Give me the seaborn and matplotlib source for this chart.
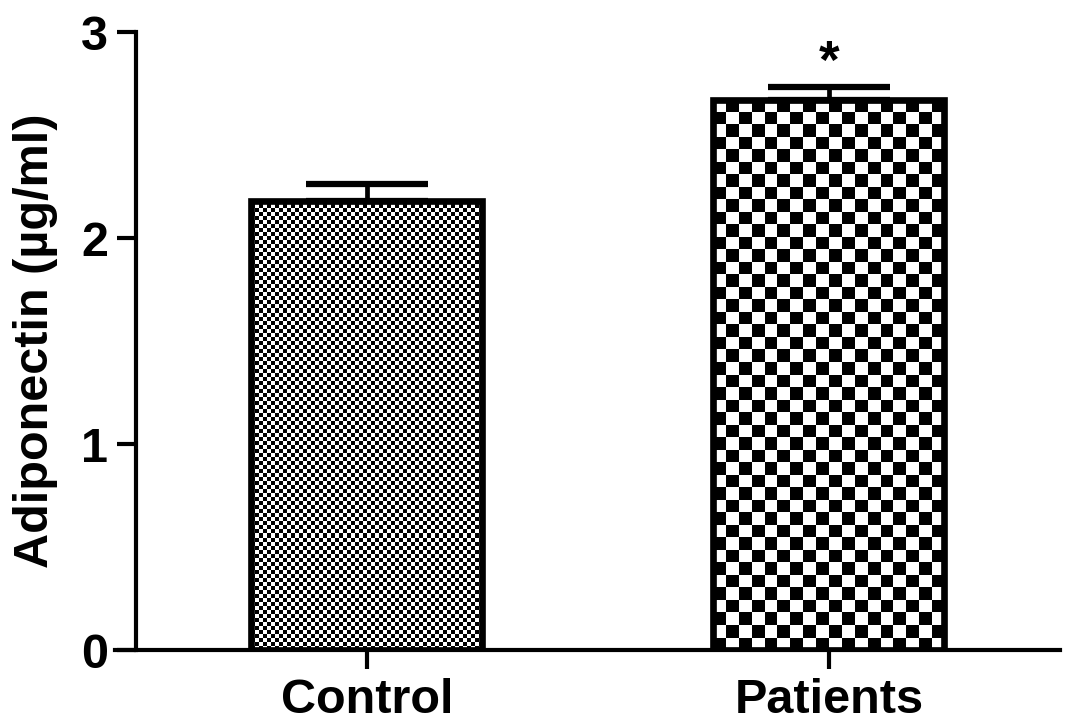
import numpy as np
import pandas as pd
import matplotlib
matplotlib.use('Agg')
import matplotlib.pyplot as plt
import seaborn as sns

# Data
groups = ['Control', 'Patients']
means = [2.18, 2.67]
sems = [0.08, 0.065]
square_px = [4, 12.5]  # checkerboard cell size for each bar, in pixels

sns.set_style('ticks')
plt.rcParams['font.family'] = ['Liberation Sans', 'DejaVu Sans']
plt.rcParams['font.weight'] = 'bold'
plt.rcParams['text.color'] = 'black'
plt.rcParams['axes.edgecolor'] = 'black'
plt.rcParams['axes.labelcolor'] = 'black'
plt.rcParams['xtick.color'] = 'black'
plt.rcParams['ytick.color'] = 'black'

fig = plt.figure(figsize=(10.87, 7.28), dpi=100)
ax = fig.add_axes([115 / 1087, 1 - 650 / 728, 945 / 1087, 618 / 728])

df = pd.DataFrame({'group': groups, 'value': means})
sns.barplot(data=df, x='group', y='value', width=0.5, color='white',
            edgecolor='black', linewidth=4.8, ax=ax, zorder=2)

ax.set_xlim(-0.545, 1.5)
ax.set_ylim(0, 3)

# checkerboard fill, clipped to each bar
fig.canvas.draw()
for patch, sq in zip(ax.patches, square_px):
    x0, y0 = patch.get_x(), patch.get_y()
    w, h = patch.get_width(), patch.get_height()
    p0 = ax.transData.transform((x0, y0))
    p1 = ax.transData.transform((x0 + w, y0 + h))
    nx = max(int(round((p1[0] - p0[0]) / sq)), 1)
    ny = max(int(round((p1[1] - p0[1]) / sq)), 1)
    board = (np.add.outer(np.arange(ny), np.arange(nx)) % 2).astype(float)
    im = ax.imshow(board, cmap='gray', vmin=0, vmax=1, interpolation='nearest',
                   extent=(x0, x0 + w, y0, y0 + h), origin='lower',
                   aspect='auto', zorder=1)
    im.set_clip_path(patch)
    patch.set_facecolor('none')
    patch.set_zorder(2)

ax.set_xlim(-0.545, 1.5)
ax.set_ylim(0, 3)

centers = [p.get_x() + p.get_width() / 2 for p in ax.patches]
ax.errorbar(centers, means, yerr=[np.zeros(len(sems)), sems], fmt='none',
            ecolor='black', elinewidth=3.4, capsize=44, capthick=4.5, zorder=3)

ax.text(centers[1], means[1] + sems[1] - 0.01, '*', ha='center', va='bottom',
        fontsize=38, fontweight='bold')

sns.despine(ax=ax)
ax.spines['left'].set_position(('data', -0.5))
ax.spines['left'].set_linewidth(3)
ax.spines['bottom'].set_linewidth(3)
ax.spines['left'].set_bounds(0, 3)

ax.set_yticks([0, 1, 2, 3])
ax.tick_params(axis='both', length=14, width=3, labelsize=35, pad=6)
ax.set_xlabel('')
ax.set_ylabel('Adiponectin (µg/ml)', fontsize=35, fontweight='bold')
ax.yaxis.set_label_coords(-0.06, 0.5)
for lbl in ax.get_xticklabels() + ax.get_yticklabels():
    lbl.set_fontweight('bold')

fig.savefig('out.png', dpi=100)
